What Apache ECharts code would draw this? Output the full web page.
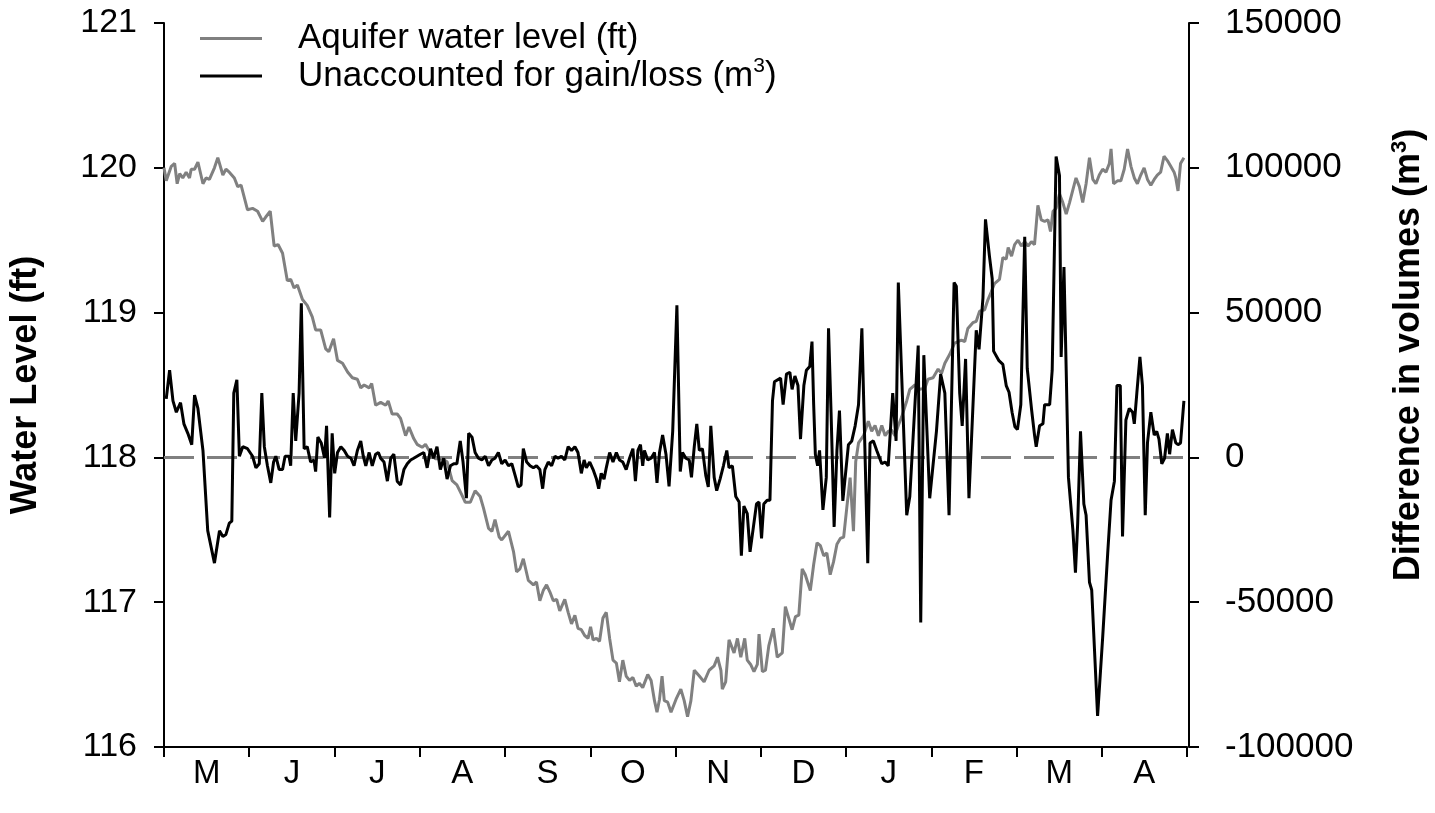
<!DOCTYPE html>
<html>
<head>
<meta charset="utf-8">
<script src="https://cdn.jsdelivr.net/npm/echarts@6/dist/echarts.min.js"></script>
<style>
  html, body { margin: 0; padding: 0; background: #fff; }
  #chart { width: 1435px; height: 813px; }
</style>
</head>
<body>
<div id="chart"></div>
<script>
// Month labels (May .. April)
const months = ['M','J','J','A','S','O','N','D','J','F','M','A'];

// Aquifer water level (ft): day index from 1 May, value
const levelDays = [0.0,0.8,2.6,3.8,4.7,5.6,6.7,7.9,9.1,9.7,10.9,12.1,13.9,15.0,16.2,18.0,19.2,21.0,22.1,23.3,25.1,26.3,27.5,28.1,29.8,31.6,33.4,35.2,36.3,37.9,39.3,40.7,42.3,44.0,45.2,46.4,47.6,49.4,51.1,52.9,54.1,55.9,57.7,58.8,60.5,61.9,63.7,65.5,67.2,69.0,70.2,71.4,73.2,74.1,75.5,77.3,79.1,80.0,81.4,83.2,84.4,86.2,87.4,89.1,90.3,92.1,93.3,94.5,96.8,99.2,101.0,102.8,104.5,106.3,107.5,109.3,111.0,112.8,114.0,115.8,117.0,118.1,119.6,120.5,122.9,124.7,125.8,127.0,128.2,128.8,130.0,131.8,132.9,134.1,135.3,136.5,137.7,138.9,140.1,141.2,143.0,144.2,145.4,146.6,147.7,148.9,150.1,151.3,152.2,153.1,154.3,155.4,156.6,157.8,159.0,160.2,161.4,162.5,163.7,164.9,166.1,167.3,168.5,169.6,170.8,172.6,173.8,175.0,175.9,176.8,177.7,178.5,179.7,180.9,182.7,184.4,185.6,186.8,188.0,189.2,191.0,192.7,194.5,196.3,197.5,198.7,199.2,200.4,201.6,203.4,204.6,205.8,207.2,208.1,209.3,210.5,211.7,212.3,213.5,214.6,215.8,217.4,218.8,220.6,221.7,222.9,224.1,225.3,226.5,227.7,228.8,230.6,231.8,233.0,234.2,235.4,236.5,237.7,238.9,240.1,241.3,242.5,243.6,244.8,246.0,246.8,247.8,249.6,251.3,252.5,253.7,254.9,256.1,257.3,258.4,259.6,260.8,262.0,263.2,265.0,266.1,267.9,269.7,271.5,272.6,274.4,276.2,277.4,278.6,280.3,282.1,284.5,285.7,286.8,288.6,289.8,291.0,292.8,294.0,295.1,296.3,298.1,299.3,300.5,301.2,302.4,303.5,304.7,305.9,307.1,308.3,309.5,310.6,311.8,313.0,314.2,315.4,316.3,317.2,318.3,319.5,320.7,321.9,323.1,324.3,325.4,326.6,327.8,329.0,330.2,331.4,332.5,333.7,334.9,336.1,337.3,337.9,338.8,340.2,341.4,342.6,343.8,345.0,346.2,347.3,348.5,349.7,350.9,352.1,353.3,354.4,355.6,356.8,358.0,359.2,360.4,361.0,361.8,362.7,363.9];
const levelFt = [120.00,119.91,120.01,120.03,119.89,119.96,119.93,119.97,119.93,119.99,119.99,120.04,119.89,119.93,119.92,120.00,120.07,119.95,119.99,119.97,119.93,119.87,119.88,119.87,119.71,119.72,119.70,119.63,119.66,119.70,119.46,119.47,119.41,119.22,119.23,119.17,119.19,119.09,119.05,118.97,118.88,118.88,118.75,118.73,118.82,118.67,118.65,118.59,118.55,118.54,118.48,118.50,118.48,118.51,118.36,118.38,118.36,118.39,118.30,118.30,118.27,118.15,118.21,118.13,118.09,118.07,118.09,118.05,117.99,117.99,117.97,117.84,117.81,117.74,117.69,117.69,117.77,117.73,117.65,117.51,117.49,117.57,117.45,117.43,117.49,117.35,117.21,117.23,117.30,117.31,117.15,117.12,117.14,117.01,117.08,117.12,117.07,117.01,117.02,116.94,117.02,116.93,116.85,116.91,116.82,116.81,116.77,116.75,116.83,116.74,116.75,116.73,116.89,116.93,116.75,116.60,116.58,116.45,116.60,116.49,116.46,116.48,116.42,116.44,116.41,116.50,116.46,116.32,116.24,116.33,116.49,116.32,116.31,116.24,116.33,116.40,116.32,116.21,116.32,116.53,116.49,116.45,116.53,116.56,116.62,116.53,116.40,116.45,116.74,116.65,116.75,116.62,116.75,116.60,116.57,116.52,116.57,116.78,116.52,116.53,116.70,116.82,116.62,116.65,116.97,116.89,116.81,116.90,116.91,117.23,117.19,117.08,117.26,117.41,117.39,117.32,117.34,117.19,117.28,117.40,117.44,117.45,117.65,117.86,117.49,117.97,118.10,118.15,118.25,118.18,118.22,118.15,118.22,118.15,118.18,118.19,118.15,118.22,118.28,118.39,118.47,118.50,118.47,118.48,118.54,118.55,118.61,118.58,118.65,118.71,118.79,118.81,118.80,118.89,118.93,118.94,119.01,119.02,119.09,119.14,119.20,119.23,119.38,119.37,119.45,119.39,119.47,119.50,119.46,119.49,119.46,119.49,119.47,119.74,119.64,119.63,119.64,119.56,119.70,119.72,119.82,119.76,119.68,119.76,119.85,119.93,119.87,119.76,119.89,120.07,119.92,119.89,119.95,119.99,119.97,120.03,120.13,119.89,119.91,119.91,119.99,120.13,120.01,119.93,119.89,119.95,120.00,119.92,119.88,119.92,119.95,119.97,120.08,120.05,120.01,119.97,119.93,119.84,120.03,120.07];

// Unaccounted for gain/loss (m3): day index from 1 May, value
const gainDays = [0.8,2.0,3.2,4.4,5.9,7.1,8.5,9.9,10.9,12.1,13.9,15.6,18.0,19.8,21.0,22.1,23.3,24.2,24.9,26.0,26.9,28.1,29.8,31.6,32.8,34.0,34.9,35.8,36.9,38.1,39.1,39.9,41.1,42.3,43.2,44.6,45.2,46.1,47.0,48.2,49.0,50.0,51.1,52.3,53.5,54.1,54.9,56.1,57.3,58.0,59.1,60.0,60.9,61.9,63.1,64.3,65.5,66.7,67.8,69.0,70.2,71.1,72.0,73.2,74.3,75.5,76.5,77.3,78.5,79.7,80.9,82.0,83.2,84.4,85.6,86.8,88.0,89.1,90.3,91.5,92.7,93.9,95.1,96.2,97.4,98.6,99.8,101.0,102.2,103.4,104.5,105.7,106.7,107.9,108.7,109.9,111.0,112.2,113.4,114.6,115.8,117.0,118.1,119.3,120.5,121.7,122.9,124.1,125.3,126.4,127.4,128.2,129.4,130.6,131.8,132.9,134.1,135.1,135.9,137.1,138.3,139.5,140.6,141.8,143.0,144.2,145.4,146.6,147.7,148.9,149.9,150.7,151.9,153.1,154.3,155.1,156.0,157.0,157.8,159.0,160.2,161.4,162.5,163.7,164.9,166.1,167.3,168.2,169.1,170.0,170.8,171.4,172.6,173.8,175.0,175.9,176.8,177.9,179.1,180.2,181.5,183.0,184.2,185.0,186.2,187.4,188.2,189.2,190.1,191.0,192.1,193.3,194.2,195.1,196.3,197.2,198.4,199.6,200.8,201.6,202.8,204.0,205.2,206.0,206.9,208.1,209.1,210.3,211.4,212.3,213.2,214.0,215.2,216.2,217.1,217.8,220.0,220.9,222.1,223.3,224.1,225.1,226.2,227.1,228.3,229.2,230.4,231.2,231.8,232.4,233.2,233.9,235.1,236.3,237.1,238.0,239.1,240.1,241.0,242.2,244.2,245.4,246.6,247.8,249.0,251.1,251.9,253.1,254.3,256.1,257.3,258.4,260.0,261.2,262.0,265.0,266.1,269.1,270.0,271.1,273.2,275.6,277.1,278.6,280.1,281.9,282.7,283.9,284.8,286.0,287.2,289.8,290.8,292.2,293.1,294.5,295.5,296.0,297.9,299.3,300.5,301.5,302.6,303.6,304.5,305.7,307.1,308.0,309.5,310.6,311.2,312.4,313.6,314.2,316.0,316.9,318.3,319.5,320.1,321.1,321.9,322.7,324.3,325.2,326.0,327.0,328.2,329.0,330.2,331.0,333.1,334.9,336.7,337.9,339.1,340.0,341.2,342.0,343.2,344.4,345.6,346.2,347.1,348.2,349.1,350.1,350.9,352.1,353.3,354.2,355.0,356.0,357.0,358.0,358.8,359.8,361.0,361.8,362.7,363.9];
const gainM3 = [20200,30100,19500,15600,18900,11600,8300,4400,21500,16900,2400,-25300,-36500,-25300,-27300,-26600,-22700,-22000,22200,26800,400,3700,3000,400,-3600,-2200,22200,3700,-2900,-8800,-1600,400,-4200,-4200,400,400,-2900,22200,5700,22200,53200,3000,3700,-1600,-900,-4900,7000,5000,-300,10900,-20700,8300,-5500,1700,3700,2400,400,-300,-2900,2400,5700,400,-2900,1700,-2900,1100,1700,-300,-1600,-8200,-300,1100,-8200,-9500,-4200,-2200,-900,-300,400,1100,1700,-3600,3000,-300,3700,-4200,-300,-7500,-2900,-2200,-2200,5700,-1600,-14100,8300,7000,1700,-300,-900,400,-2900,-900,-300,1700,-2200,-900,-2900,-2200,-6300,-10200,-9500,3000,-1600,-2900,-3600,-2900,-4200,-10800,-4200,-1600,-2900,400,-300,400,-900,3700,2400,3700,1700,-5500,-900,-3600,-1600,-4200,-7500,-10800,-5500,-7500,-3600,1700,-1600,1700,-900,-1600,-4200,-300,3000,-8200,2400,4400,-2900,2400,-900,-300,1700,-8800,1700,7700,1100,-10000,9000,52500,-4900,1700,-300,-900,-6900,3700,11600,2400,3000,-6200,-10200,10900,-6900,-11500,-7500,-2900,2400,-3600,-2900,-13500,-15400,-33900,-16800,-19400,-32600,-24000,-16100,-15400,-28000,-16100,-14800,-14800,19500,26100,27400,18200,28800,29400,23500,28100,24800,6300,24800,30100,31400,40000,18200,1100,-2900,2400,-18100,-6900,44600,15600,-24000,2400,16200,-15000,4400,5700,10900,18200,44600,-36500,5000,5700,2400,-2200,-1600,-2900,22200,5700,60400,-20000,-13500,38600,-57000,35300,-14100,9000,28800,22200,-20000,60400,59100,22200,10900,34000,-14100,43900,37300,55100,82200,69600,61700,36700,33400,32100,24800,22500,15500,10600,9600,18200,76200,30700,16900,7700,3700,10900,11600,18200,18200,30100,103900,97300,34700,65700,30100,-6900,-25300,-39800,-22700,9000,-16100,-20000,-43100,-45800,-89300,-62300,-33200,-14800,-8200,24800,24800,-27300,12900,16900,15600,11600,22200,34700,24800,-20000,5000,15600,7700,9000,6300,-2200,-300,8300,1100,9600,5000,4400,5000,19500];

const FONT = '"Liberation Sans", Arial, Helvetica, sans-serif';
const chart = echarts.init(document.getElementById('chart'), null, { renderer: 'canvas' });

const option = {
  animation: false,
  backgroundColor: '#ffffff',
  textStyle: { fontFamily: FONT, color: '#000' },
  grid: { left: 163, top: 23, width: 1030, height: 724, containLabel: false },
  legend: {
    orient: 'vertical',
    left: 200,
    top: 21,
    padding: 0,
    itemWidth: 62,
    itemHeight: 3,
    itemGap: 0,
    icon: 'rect',
    selectedMode: false,
    formatter: function (name) {
      if (name.indexOf('(m3)') >= 0) {
        return '{b|Unaccounted for gain/loss (m}{s|3}{b|)}';
      }
      return '{t|' + name + '}';
    },
    textStyle: {
      fontFamily: FONT,
      fontSize: 35,
      color: '#000',
      padding: [0, 0, 0, 31],
      rich: {
        t: { fontFamily: FONT, fontSize: 35, lineHeight: 34, color: '#000' },
        b: { fontFamily: FONT, fontSize: 35, lineHeight: 40, color: '#000' },
        s: { fontFamily: FONT, fontSize: 21, lineHeight: 21, color: '#000', verticalAlign: 'top' }
      }
    },
    data: [
      { name: 'Aquifer water level (ft)', itemStyle: { color: '#808080' } },
      { name: 'Unaccounted for gain/loss (m3)', itemStyle: { color: '#000000' } }
    ]
  },
  xAxis: [
    {
      type: 'category',
      data: months,
      boundaryGap: true,
      position: 'bottom',
      axisLine: { show: true, onZero: false, lineStyle: { color: '#000', width: 2 } },
      axisTick: { show: true, inside: false, length: 10, alignWithLabel: false, lineStyle: { color: '#000', width: 2 } },
      axisLabel: { fontFamily: FONT, fontSize: 33, color: '#000', margin: 10 },
      splitLine: { show: false }
    },
    {
      type: 'value',
      min: 0,
      max: 365,
      show: false,
      position: 'bottom',
      axisLine: { show: false, onZero: false },
      axisTick: { show: false },
      axisLabel: { show: false },
      splitLine: { show: false }
    }
  ],
  yAxis: [
    {
      type: 'value',
      position: 'left',
      min: 116,
      max: 121,
      interval: 1,
      axisLine: { show: true, onZero: false, lineStyle: { color: '#000', width: 2 } },
      axisTick: { show: true, inside: false, length: 10, lineStyle: { color: '#000', width: 2 } },
      axisLabel: { fontFamily: FONT, fontSize: 34, color: '#000', margin: 27 },
      splitLine: { show: false },
      name: 'Water Level (ft)',
      nameLocation: 'middle',
      nameRotate: 90,
      nameGap: 120,
      nameTextStyle: { fontFamily: FONT, fontSize: 36, fontWeight: 'bold', color: '#000' }
    },
    {
      type: 'value',
      position: 'right',
      offset: 2,
      min: -100000,
      max: 150000,
      interval: 50000,
      axisLine: { show: true, onZero: false, lineStyle: { color: '#000', width: 2 } },
      axisTick: { show: true, inside: false, length: 10, lineStyle: { color: '#000', width: 2 } },
      axisLabel: { fontFamily: FONT, fontSize: 35, color: '#000', margin: 36, formatter: function (v) { return String(v); } },
      splitLine: { show: false },
      name: '{n|Difference in volumes (m}{s|3}{n|)}',
      nameLocation: 'middle',
      nameRotate: 90,
      nameGap: 200,
      nameTextStyle: {
        fontFamily: FONT, fontSize: 36, fontWeight: 'bold', color: '#000',
        padding: [0, 0, 0, 60],
        rich: {
          n: { fontFamily: FONT, fontSize: 36, fontWeight: 'bold', lineHeight: 40, color: '#000' },
          s: { fontFamily: FONT, fontSize: 22, fontWeight: 'bold', lineHeight: 22, color: '#000', verticalAlign: 'top' }
        }
      }
    }
  ],
  series: [
    {
      name: 'Aquifer water level (ft)',
      type: 'line',
      xAxisIndex: 1,
      yAxisIndex: 0,
      data: levelDays.map((d, i) => [d, levelFt[i]]),
      showSymbol: false,
      symbol: 'none',
      lineStyle: { color: '#808080', width: 3 },
      itemStyle: { color: '#808080' },
      z: 2,
      markLine: {
        silent: true,
        symbol: 'none',
        z: 1,
        label: { show: false },
        lineStyle: { color: '#808080', width: 3, type: [30, 13] },
        data: [{ yAxis: 118 }]
      }
    },
    {
      name: 'Unaccounted for gain/loss (m3)',
      type: 'line',
      xAxisIndex: 1,
      yAxisIndex: 1,
      data: gainDays.map((d, i) => [d, gainM3[i]]),
      showSymbol: false,
      symbol: 'none',
      lineStyle: { color: '#000000', width: 3 },
      itemStyle: { color: '#000000' },
      z: 3
    }
  ]
};

chart.setOption(option);
</script>
</body>
</html>
